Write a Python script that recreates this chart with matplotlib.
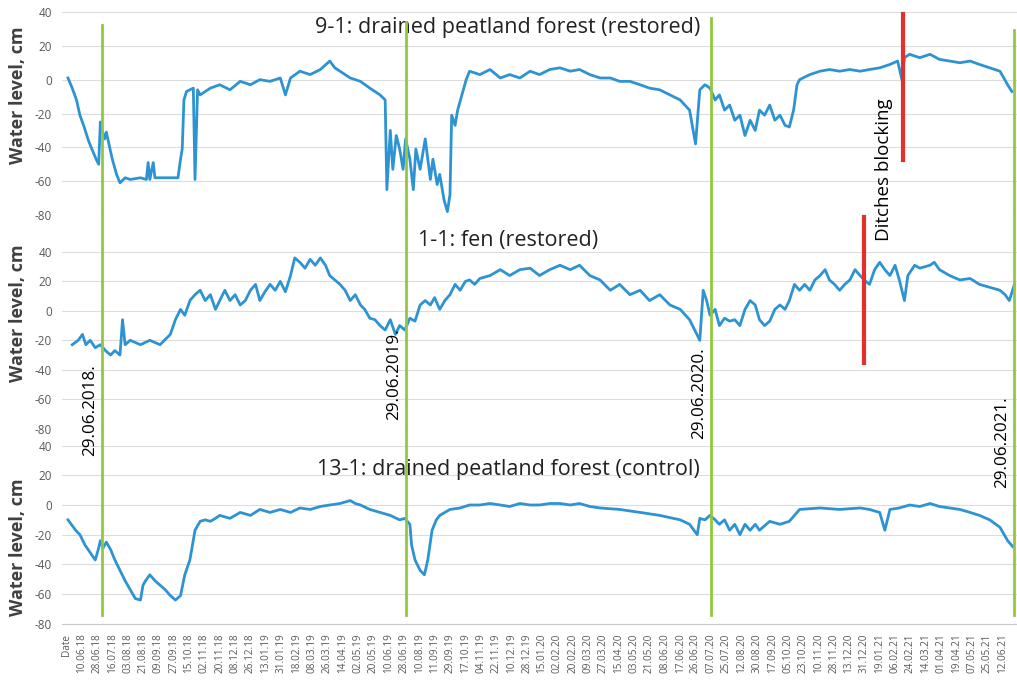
import matplotlib
matplotlib.use("Agg")
import matplotlib.pyplot as plt
from matplotlib.transforms import blended_transform_factory

# row index of each reading (one row per day, row 0 is the header row) and water level, cm
rows_91 = [2, 7, 12, 16, 21, 26, 30, 35, 38, 40, 42, 45, 47, 50, 54, 59, 63, 69, 75, 87,
           94, 96, 98, 102, 104, 116, 128, 131, 134, 136, 138, 141, 145, 149, 151, 154, 157,
           169, 180, 192, 204, 216, 227, 239, 251, 257, 263, 274, 286, 298, 309, 315, 321,
           333, 345, 356, 368, 374, 376, 380, 383, 387, 391, 395, 398, 403, 407, 410, 415,
           421, 427, 430, 435, 438, 443, 447, 450, 452, 456, 459, 464, 469, 473, 485, 497,
           509, 520, 532, 544, 555, 567, 579, 591, 602, 614, 626, 638, 649, 661, 673, 684,
           696, 708, 720, 731, 738, 743, 749, 755, 761, 766, 772, 778, 784, 790, 796, 802,
           808, 813, 819, 825, 831, 837, 843, 848, 853, 857, 860, 872, 884, 895, 907, 919,
           931, 942, 954, 966, 975, 980, 983, 989, 1001, 1013, 1024, 1036, 1048, 1060, 1071,
           1083, 1095, 1104, 1109]
level_91 = [1, -5, -12, -21, -28, -36, -41, -47, -50, -25, -30, -35, -31, -38, -47, -56, -61,
            -58, -59, -58, -59, -49, -59, -49, -58, -58, -58, -58, -47, -41, -12, -7, -6, -5,
            -59, -6, -9, -5, -3, -6, -1, -3, 0, -1, 1, -9, 1, 5, 3, 6, 11, 7, 5, 1, -1, -5,
            -9, -12, -65, -30, -53, -33, -41, -53, -35, -47, -65, -41, -53, -35, -59, -47,
            -62, -56, -71, -78, -68, -21, -27, -18, -9, 0, 5, 3, 6, 1, 3, 1, 5, 3, 6, 7, 5,
            6, 3, 1, 1, -1, -1, -3, -5, -6, -9, -12, -18, -38, -6, -3, -5, -12, -9, -18, -15,
            -24, -21, -33, -24, -30, -18, -21, -15, -24, -21, -27, -28, -18, -3, 0, 3, 5, 6,
            5, 6, 5, 6, 7, 9, 11, 0, 13, 15, 13, 15, 12, 11, 10, 11, 9, 7, 5, -3, -7]

rows_11 = [7, 14, 19, 23, 28, 34, 40, 46, 52, 57, 63, 66, 69, 75, 87, 98, 110, 122, 128,
           134, 139, 145, 151, 157, 163, 169, 175, 180, 186, 192, 198, 204, 210, 216, 222,
           227, 233, 239, 245, 251, 257, 263, 268, 274, 280, 286, 292, 298, 304, 309, 315,
           321, 327, 333, 339, 345, 350, 356, 362, 368, 374, 380, 386, 391, 397, 403, 409,
           415, 421, 427, 432, 438, 444, 450, 456, 462, 468, 473, 479, 485, 497, 509, 520,
           532, 544, 555, 567, 579, 591, 602, 614, 626, 638, 649, 661, 673, 684, 696, 708,
           720, 731, 737, 743, 747, 751, 755, 761, 766, 772, 778, 784, 790, 796, 802, 808,
           813, 819, 825, 831, 837, 843, 848, 854, 860, 866, 872, 878, 884, 890, 895, 901,
           907, 913, 919, 925, 931, 936, 942, 948, 954, 960, 966, 972, 977, 983, 987, 995,
           1001, 1013, 1018, 1024, 1036, 1048, 1060, 1071, 1083, 1095, 1101, 1106, 1112]
level_11 = [-23, -20, -16, -23, -20, -25, -23, -27, -30, -27, -30, -6, -23, -20, -23, -20,
            -23, -16, -6, 1, -3, 7, 11, 14, 7, 11, 1, 7, 14, 7, 11, 4, 7, 14, 18, 7, 13, 18,
            14, 20, 13, 24, 36, 33, 29, 35, 31, 36, 31, 24, 21, 18, 14, 7, 11, 4, 1, -5, -6,
            -10, -13, -6, -16, -10, -13, -5, -7, 4, 7, 4, 9, 1, 7, 11, 18, 14, 20, 21, 18,
            22, 24, 28, 24, 28, 29, 24, 28, 31, 28, 31, 24, 21, 14, 18, 11, 14, 7, 11, 4, 1,
            -6, -13, -20, 14, 7, -3, 1, -10, -5, -7, -6, -10, 1, 7, 4, -6, -10, -7, 1, 4, 1,
            7, 18, 14, 18, 14, 21, 24, 28, 21, 18, 14, 18, 21, 28, 24, 21, 18, 28, 33, 28, 24,
            31, 21, 7, 24, 31, 29, 31, 33, 28, 24, 21, 22, 18, 16, 14, 11, 7, 18]

rows_131 = [2, 11, 16, 22, 28, 34, 38, 40, 43, 47, 52, 57, 63, 69, 75, 81, 87, 90, 93, 98,
            104, 110, 116, 122, 128, 134, 139, 145, 151, 157, 163, 169, 175, 180, 192, 204,
            216, 227, 239, 251, 263, 274, 286, 298, 309, 321, 333, 339, 345, 356, 368, 380,
            391, 397, 403, 405, 409, 415, 420, 424, 429, 434, 438, 450, 462, 473, 485, 497,
            509, 520, 532, 544, 555, 567, 579, 591, 602, 614, 626, 649, 673, 696, 720, 731,
            740, 743, 749, 755, 761, 766, 772, 778, 784, 790, 796, 802, 808, 813, 825, 837,
            848, 854, 860, 884, 907, 931, 942, 954, 960, 966, 977, 989, 1001, 1013, 1024,
            1036, 1048, 1060, 1071, 1083, 1095, 1104, 1110]
level_131 = [-10, -17, -20, -27, -32, -37, -29, -24, -29, -25, -30, -37, -44, -51, -57, -63,
             -64, -54, -51, -47, -51, -54, -57, -61, -64, -61, -47, -37, -17, -11, -10, -11,
             -9, -7, -9, -5, -7, -3, -5, -3, -5, -2, -3, -1, 0, 1, 3, 1, 0, -3, -5, -7, -10,
             -9, -13, -27, -37, -44, -47, -37, -17, -10, -7, -3, -2, 0, 0, 1, 0, -1, 1, 0, 0,
             1, 1, 0, 1, -1, -2, -3, -5, -7, -10, -13, -20, -9, -10, -7, -10, -13, -10, -17,
             -13, -20, -13, -17, -13, -17, -11, -13, -11, -7, -3, -2, -3, -2, -3, -5, -17, -3,
             -2, 0, -1, 1, -1, -2, -3, -5, -7, -10, -15, -24, -28]

tick_labels = ["Date",
               "10.06.18", "28.06.18", "16.07.18", "03.08.18", "21.08.18", "09.09.18",
               "27.09.18", "15.10.18", "02.11.18", "20.11.18", "08.12.18", "26.12.18",
               "13.01.19", "31.01.19", "18.02.19", "08.03.19", "26.03.19", "14.04.19",
               "02.05.19", "20.05.19", "10.06.19", "28.06.19", "10.08.19", "11.09.19",
               "29.09.19", "17.10.19", "04.11.19", "22.11.19", "10.12.19", "28.12.19",
               "15.01.20", "02.02.20", "20.02.20", "09.03.20", "27.03.20", "15.04.20",
               "03.05.20", "21.05.20", "08.06.20", "17.06.20", "26.06.20", "07.07.20",
               "25.07.20", "12.08.20", "30.08.20", "17.09.20", "05.10.20", "23.10.20",
               "10.11.20", "28.11.20", "13.12.20", "31.12.20", "19.01.21", "06.02.21",
               "24.02.21", "14.03.21", "01.04.21", "19.04.21", "07.05.21", "25.05.21",
               "12.06.21"]
tick_step = 18

season_rows = [42, 398, 756, 1112]
season_labels = ["29.06.2018.", "29.06.2019.", "29.06.2020.", "29.06.2021."]
blocking_rows = [981, 936]   # 9-1, 1-1

titles = ["9-1: drained peatland forest (restored)",
          "1-1: fen (restored)",
          "13-1: drained peatland forest (control)"]

BLUE = "#2e93d2"
GREEN = "#92c83e"
RED = "#e2302a"
GREY = "#595959"

W, H = 1017, 681
plt.rcParams["font.family"] = ["Open Sans", "DejaVu Sans"]
plt.rcParams["axes.unicode_minus"] = False
fig = plt.figure(figsize=(W / 100, H / 100), dpi=100)


def add_panel(top, bottom):
    # axes placed by its pixel edges
    return fig.add_axes([62 / W, 1 - bottom / H, (1017 - 62) / W, (bottom - top) / H])


panels = [add_panel(12, 215), add_panel(252, 428.6), add_panel(445.6, 623.8)]
series = [(rows_91, level_91), (rows_11, level_11), (rows_131, level_131)]

for ax, (x, y) in zip(panels, series):
    ax.plot(x, y, color=BLUE, lw=2, solid_joinstyle="round", zorder=3)
    ax.set_xlim(-5, 1115)
    ax.set_ylim(-80, 40)
    ax.set_yticks(range(-80, 41, 20))
    ax.grid(axis="y", color="#dcdcdc", lw=0.8)
    ax.set_axisbelow(True)
    for s in ax.spines.values():
        s.set_visible(False)
    ax.tick_params(axis="y", length=0, pad=7, labelsize=8.5, labelcolor=GREY)
    ax.tick_params(axis="x", length=0)
    ax.set_xticks([])
    ax.patch.set_alpha(0)

# only the bottom panel carries the date axis
bottom_ax = panels[2]
bottom_ax.spines["bottom"].set_visible(True)
bottom_ax.spines["bottom"].set_color("#c8c8c8")
bottom_ax.set_xticks([i * tick_step for i in range(len(tick_labels))])
bottom_ax.set_xticklabels(tick_labels, rotation=90, fontsize=7.2, color=GREY)
bottom_ax.tick_params(axis="x", length=0, pad=7)

# y labels and panel titles
for yc in [95, 313, 547]:
    fig.text(18 / W, 1 - yc / H, "Water level, cm", rotation=90, ha="center", va="center",
             fontsize=13, fontweight="bold", color="#404040")
for title, yc in zip(titles, [27, 240, 470]):
    fig.text(508 / W, 1 - yc / H, title, ha="center", va="center", fontsize=15.5, color="#222222")

# yearly reference lines across all panels
trans = blended_transform_factory(bottom_ax.transData, fig.transFigure)
tops = [25, 22, 18, 30]
label_y = [410, 374, 393, 442]
for r, lab, t, ly in zip(season_rows, season_labels, tops, label_y):
    fig.add_artist(plt.Line2D([r, r], [1 - 615 / H, 1 - t / H], transform=trans,
                              color=GREEN, lw=2, zorder=5))
    fig.text(r - 14, 1 - ly / H, lab, transform=trans, rotation=90, ha="center", va="center",
             fontsize=12.3, color="black")

# ditch blocking markers
fig.add_artist(plt.Line2D([blocking_rows[0]] * 2, [1 - 160 / H, 1 - 14 / H], transform=trans,
                          color=RED, lw=3, zorder=6))
fig.add_artist(plt.Line2D([blocking_rows[1]] * 2, [1 - 363 / H, 1 - 217 / H], transform=trans,
                          color=RED, lw=3, zorder=6))
fig.text(blocking_rows[1] + 23, 1 - 170 / H, "Ditches blocking", transform=trans, rotation=90,
         ha="center", va="center", fontsize=13.5, color="black")

fig.savefig("out.png", dpi=100)
